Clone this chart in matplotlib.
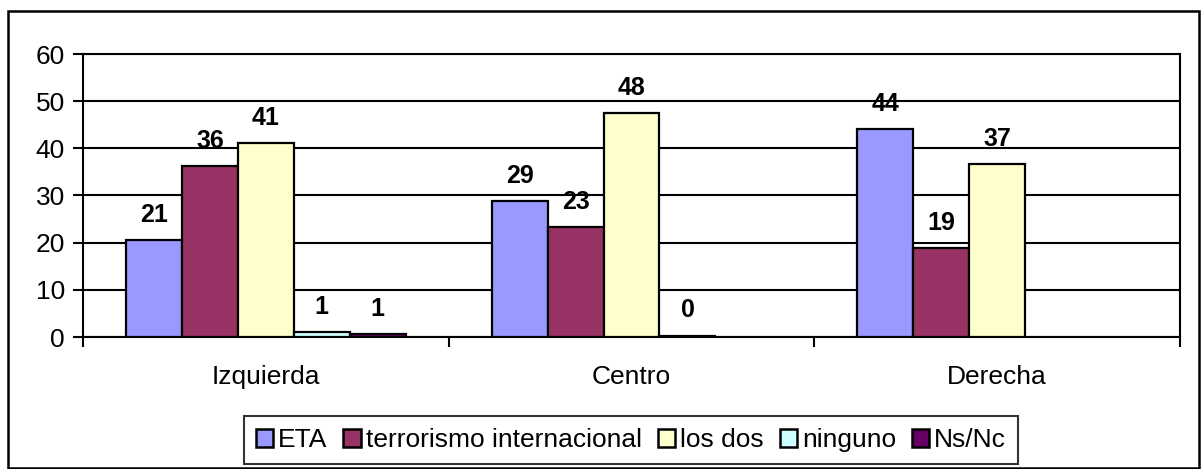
import numpy as np
import matplotlib.pyplot as plt
from matplotlib.patches import Rectangle

# survey results by political position (%)
categories = ["Izquierda", "Centro", "Derecha"]
series = ["ETA", "terrorismo internacional", "los dos", "ninguno", "Ns/Nc"]
eta = [20.6, 28.8, 44.1]
terrorismo = [36.3, 23.3, 18.9]
los_dos = [41.1, 47.5, 36.7]
ninguno = [1.0, 0.3, np.nan]
ns_nc = [0.7, np.nan, np.nan]
colors = ["#9999FF", "#993366", "#FFFFCC", "#CCFFFF", "#660066"]

values = [eta, terrorismo, los_dos, ninguno, ns_nc]

plt.rcParams['font.family'] = ['Liberation Sans', 'DejaVu Sans']

W, H = 1202, 469
fig = plt.figure(figsize=(W / 100, H / 100), dpi=100)
ax = fig.add_axes([83 / W, 1 - 337 / H, (1180 - 83) / W, (337 - 54) / H])

x = np.arange(len(categories))
bw = 0.153
for i, (name, vals, c) in enumerate(zip(series, values, colors)):
    xs = x + (i - 2) * bw
    ax.bar(xs, vals, bw, color=c, edgecolor='black', linewidth=1.6,
           label=name, zorder=3)
    for xi, v in zip(xs, vals):
        if np.isnan(v):
            continue
        ax.annotate(f"{v:.0f}", (xi, v), xytext=(0, 9.5), textcoords='offset points',
                    ha='center', va='bottom', fontsize=18, fontweight='bold',
                    zorder=4)

ax.set_xlim(-0.5, 2.5)
ax.set_ylim(0, 60)
ax.set_yticks(range(0, 61, 10))
ax.yaxis.grid(True, color='black', linewidth=1.5, zorder=0)
ax.tick_params(axis='y', labelsize=19, length=7, width=1.5, direction='out', pad=6)

# category ticks on the group boundaries, labels in the middle
ax.set_xticks([-0.5, 0.5, 1.5, 2.5])
ax.set_xticklabels([])
ax.set_xticks(x, minor=True)
ax.set_xticklabels(categories, minor=True)
ax.tick_params(axis='x', which='major', length=7, width=1.5, direction='out')
ax.tick_params(axis='x', which='minor', length=0, labelsize=19, pad=20)

for s in ax.spines.values():
    s.set_linewidth(1.5)
    s.set_color('black')

leg = fig.legend(loc='center', bbox_to_anchor=(631 / W, 1 - 440 / H), ncol=5,
                 fontsize=19, frameon=True, fancybox=False, shadow=False,
                 handlelength=0.65, handleheight=0.65, handletextpad=0.2,
                 columnspacing=0.6, borderpad=0.45, borderaxespad=0)
leg.get_frame().set_edgecolor('black')
leg.get_frame().set_linewidth(1.5)
for h in leg.legend_handles:
    h.set_linewidth(1.8)

# chart area border
fig.patches.append(Rectangle((8 / W, 1 - 468 / H), (1199 - 8) / W, (468 - 11) / H,
                             transform=fig.transFigure, fill=False,
                             edgecolor='black', linewidth=1.8))

fig.savefig("out.png", dpi=100)
